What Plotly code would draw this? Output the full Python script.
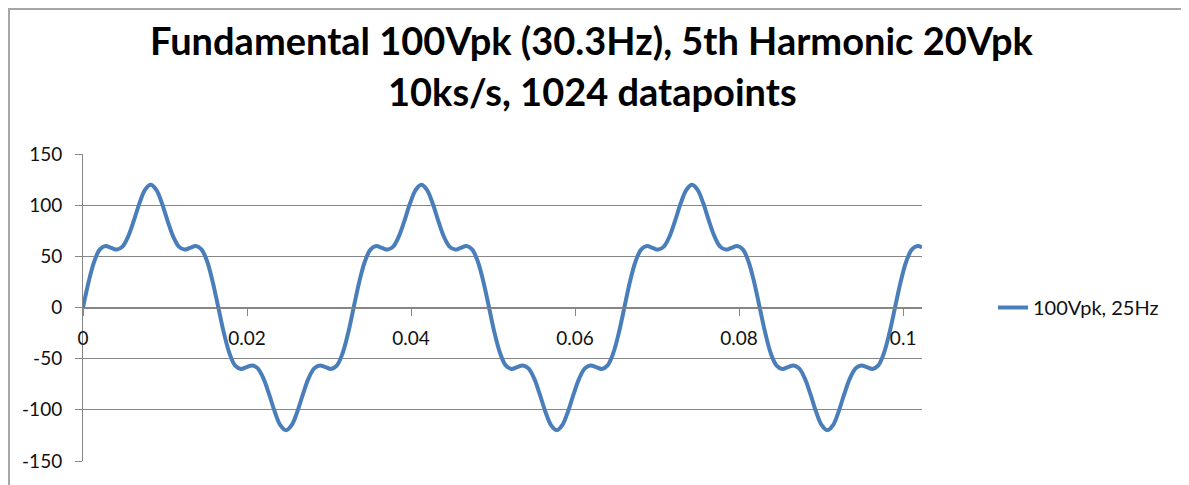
import plotly.graph_objects as go

# time (s)
t = [
    0, 0.00069, 0.00138, 0.00206, 0.00275, 0.00344, 0.00413, 0.00481, 0.00550, 0.00619, 0.00688, 0.00756,
    0.00825, 0.00894, 0.00963, 0.01031, 0.01100, 0.01169, 0.01238, 0.01306, 0.01375, 0.01444, 0.01513, 0.01581,
    0.01650, 0.01719, 0.01788, 0.01856, 0.01925, 0.01994, 0.02063, 0.02131, 0.02200, 0.02269, 0.02338, 0.02406,
    0.02475, 0.02544, 0.02613, 0.02682, 0.02750, 0.02819, 0.02888, 0.02957, 0.03025, 0.03094, 0.03163, 0.03232,
    0.03300, 0.03369, 0.03438, 0.03507, 0.03575, 0.03644, 0.03713, 0.03782, 0.03850, 0.03919, 0.03988, 0.04057,
    0.04125, 0.04194, 0.04263, 0.04332, 0.04400, 0.04469, 0.04538, 0.04607, 0.04676, 0.04744, 0.04813, 0.04882,
    0.04951, 0.05019, 0.05088, 0.05157, 0.05226, 0.05294, 0.05363, 0.05432, 0.05501, 0.05569, 0.05638, 0.05707,
    0.05776, 0.05844, 0.05913, 0.05982, 0.06051, 0.06119, 0.06188, 0.06257, 0.06326, 0.06394, 0.06463, 0.06532,
    0.06601, 0.06669, 0.06738, 0.06807, 0.06876, 0.06944, 0.07013, 0.07082, 0.07151, 0.07219, 0.07288, 0.07357,
    0.07426, 0.07494, 0.07563, 0.07632, 0.07701, 0.07769, 0.07838, 0.07907, 0.07976, 0.08045, 0.08113, 0.08182,
    0.08251, 0.08320, 0.08388, 0.08457, 0.08526, 0.08595, 0.08663, 0.08732, 0.08801, 0.08870, 0.08938, 0.09007,
    0.09076, 0.09145, 0.09213, 0.09282, 0.09351, 0.09420, 0.09488, 0.09557, 0.09626, 0.09695, 0.09763, 0.09832,
    0.09901, 0.09970, 0.10039, 0.10107, 0.10176, 0.10230,
]

# voltage (V)
v = [
    0, 25.2, 45.2, 56.8, 60.0, 58.3, 56.6, 59.5, 69.3, 84.7, 101.8, 115.0,
    120.0, 115.0, 101.8, 84.7, 69.3, 59.5, 56.6, 58.3, 60.0, 56.8, 45.2, 25.2,
    0, -25.2, -45.2, -56.8, -60.0, -58.3, -56.6, -59.5, -69.3, -84.7, -101.8, -115.0,
    -120.0, -115.0, -101.8, -84.7, -69.3, -59.5, -56.6, -58.3, -60.0, -56.8, -45.2, -25.2,
    0, 25.2, 45.2, 56.8, 60.0, 58.3, 56.6, 59.5, 69.3, 84.7, 101.8, 115.0,
    120.0, 115.0, 101.8, 84.7, 69.3, 59.5, 56.6, 58.3, 60.0, 56.8, 45.2, 25.2,
    0, -25.2, -45.2, -56.8, -60.0, -58.3, -56.6, -59.5, -69.3, -84.7, -101.8, -115.0,
    -120.0, -115.0, -101.8, -84.7, -69.3, -59.5, -56.6, -58.3, -60.0, -56.8, -45.2, -25.2,
    0, 25.2, 45.2, 56.8, 60.0, 58.3, 56.6, 59.5, 69.3, 84.7, 101.8, 115.0,
    120.0, 115.0, 101.8, 84.7, 69.3, 59.5, 56.6, 58.3, 60.0, 56.8, 45.2, 25.2,
    0, -25.2, -45.2, -56.8, -60.0, -58.3, -56.6, -59.5, -69.3, -84.7, -101.8, -115.0,
    -120.0, -115.0, -101.8, -84.7, -69.3, -59.5, -56.6, -58.3, -60.0, -56.8, -45.2, -25.2,
    0, 25.2, 45.2, 56.8, 60.0, 58.8,
]

series_name = "100Vpk, 25Hz"
title_line1 = "Fundamental 100Vpk (30.3Hz), 5th Harmonic 20Vpk"
title_line2 = "10ks/s, 1024 datapoints"
x_ticks = [0, 0.02, 0.04, 0.06, 0.08, 0.1]
x_ticklabels = ["0", "0.02", "0.04", "0.06", "0.08", "0.1"]
y_ticks = [-150, -100, -50, 0, 50, 100, 150]
y_ticklabels = ["-150", "-100", "-50", "0", "50", "100", "150"]

FONT = "Lato"
GRID = "#868686"

# figure is placed 8px from the page corner (body margin)
W, H = 1181, 477
L, R, T, B = 75, 267, 146, 24
PW = W - L - R
PH = H - T - B


def px(fx):
    return (fx - L) / PW


def py(fy):
    return (H - B - fy) / PH


fig = go.Figure()
fig.add_trace(go.Scatter(
    x=t, y=v, mode="lines", name=series_name,
    line=dict(color="#4a7ebb", width=4, shape="spline", smoothing=1.0),
))

fig.update_layout(
    width=W, height=H,
    margin=dict(l=L, r=R, t=T, b=B),
    paper_bgcolor="white", plot_bgcolor="white",
    font=dict(family=FONT, size=19, color="#111111"),
    showlegend=True,
    legend=dict(x=px(985), y=0.5, xanchor="left", yanchor="middle",
                font=dict(family=FONT, size=20, color="#111111"),
                bgcolor="rgba(0,0,0,0)"),
    xaxis=dict(
        range=[0, 0.1023], tickvals=x_ticks, ticktext=x_ticklabels,
        anchor="free", position=0.5,
        showline=True, linecolor=GRID, linewidth=1,
        ticks="outside", ticklen=7, tickcolor=GRID,
        showgrid=False, zeroline=False, ticklabelstandoff=7,
        tickfont=dict(family=FONT, size=19, color="#111111"),
    ),
    yaxis=dict(
        range=[-150, 150], tickvals=y_ticks, ticktext=y_ticklabels,
        showline=True, linecolor=GRID, linewidth=1,
        ticks="outside", ticklen=7, tickcolor=GRID,
        showgrid=True, gridcolor=GRID, gridwidth=1,
        zeroline=False, ticklabelstandoff=9,
        tickfont=dict(family=FONT, size=19, color="#111111"),
    ),
    annotations=[
        dict(text="<b>" + title_line1 + "</b>", xref="paper", yref="paper",
             x=px(584), y=py(32), xanchor="center", yanchor="middle",
             showarrow=False, font=dict(family=FONT, size=38, color="#000000")),
        dict(text="<b>" + title_line2 + "</b>", xref="paper", yref="paper",
             x=px(584), y=py(83), xanchor="center", yanchor="middle",
             showarrow=False, font=dict(family=FONT, size=38, color="#000000")),
    ],
    shapes=[
        dict(type="rect", xref="paper", yref="paper",
             x0=px(1), x1=px(W + 50), y0=py(H + 50), y1=py(1),
             line=dict(color="#a6a6a6", width=2), fillcolor="rgba(0,0,0,0)", layer="below"),
    ],
)

fig.write_html("out.html")
